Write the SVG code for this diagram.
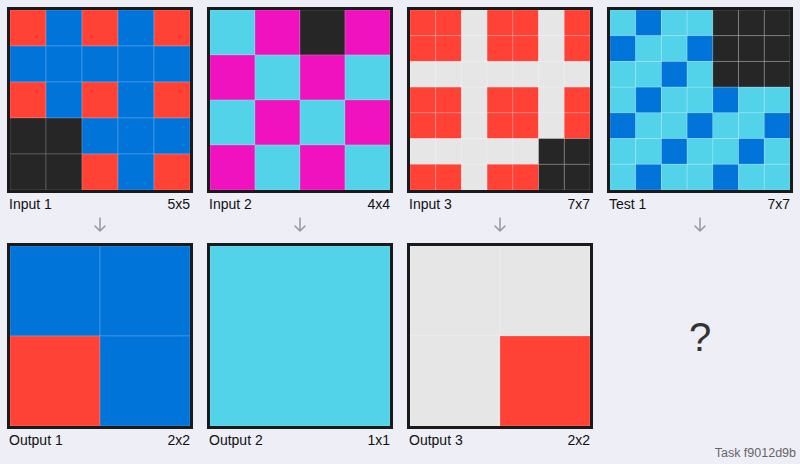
<svg xmlns="http://www.w3.org/2000/svg" width="800" height="464" viewBox="0 0 800 464">
<defs>
<style>
.bg{fill:#eeeef6}
.R{fill:#ff4136}.B{fill:#0074d9}.K{fill:#262626}.C{fill:#52d3ea}.M{fill:#f012be}.G{fill:#e6e6e6}
.cell{stroke:#ffffff;stroke-opacity:0.18;stroke-width:1}
.frame{fill:none;stroke:#1a1a1a;stroke-width:3}
.lbl{font-family:"Liberation Sans",Arial,sans-serif;font-size:14px;fill:#111}
.r{text-anchor:end}
.arr{fill:none;stroke:#999;stroke-width:1.5;stroke-linecap:round;stroke-linejoin:round}
</style>
</defs>
<rect class="bg" x="0" y="0" width="800" height="464"/>

<g id="input1">
<g class="cell">
<rect class="R" x="10" y="10" width="36" height="36"/><rect class="B" x="46" y="10" width="36" height="36"/><rect class="R" x="82" y="10" width="36" height="36"/><rect class="B" x="118" y="10" width="36" height="36"/><rect class="R" x="154" y="10" width="36" height="36"/>
<rect class="B" x="10" y="46" width="36" height="36"/><rect class="B" x="46" y="46" width="36" height="36"/><rect class="B" x="82" y="46" width="36" height="36"/><rect class="B" x="118" y="46" width="36" height="36"/><rect class="B" x="154" y="46" width="36" height="36"/>
<rect class="R" x="10" y="82" width="36" height="36"/><rect class="B" x="46" y="82" width="36" height="36"/><rect class="R" x="82" y="82" width="36" height="36"/><rect class="B" x="118" y="82" width="36" height="36"/><rect class="R" x="154" y="82" width="36" height="36"/>
<rect class="K" x="10" y="118" width="36" height="36"/><rect class="K" x="46" y="118" width="36" height="36"/><rect class="B" x="82" y="118" width="36" height="36"/><rect class="B" x="118" y="118" width="36" height="36"/><rect class="B" x="154" y="118" width="36" height="36"/>
<rect class="K" x="10" y="154" width="36" height="36"/><rect class="K" x="46" y="154" width="36" height="36"/><rect class="R" x="82" y="154" width="36" height="36"/><rect class="B" x="118" y="154" width="36" height="36"/><rect class="R" x="154" y="154" width="36" height="36"/>
</g>
<rect class="frame" x="8.5" y="8.5" width="183" height="183"/>
<text class="lbl" x="9" y="209">Input 1</text><text class="lbl r" x="190" y="209">5x5</text>
</g>

<g id="input2">
<g class="cell">
<rect class="C" x="210" y="10" width="45" height="45"/><rect class="M" x="255" y="10" width="45" height="45"/><rect class="K" x="300" y="10" width="45" height="45"/><rect class="M" x="345" y="10" width="45" height="45"/>
<rect class="M" x="210" y="55" width="45" height="45"/><rect class="C" x="255" y="55" width="45" height="45"/><rect class="M" x="300" y="55" width="45" height="45"/><rect class="C" x="345" y="55" width="45" height="45"/>
<rect class="C" x="210" y="100" width="45" height="45"/><rect class="M" x="255" y="100" width="45" height="45"/><rect class="C" x="300" y="100" width="45" height="45"/><rect class="M" x="345" y="100" width="45" height="45"/>
<rect class="M" x="210" y="145" width="45" height="45"/><rect class="C" x="255" y="145" width="45" height="45"/><rect class="M" x="300" y="145" width="45" height="45"/><rect class="C" x="345" y="145" width="45" height="45"/>
</g>
<rect class="frame" x="208.5" y="8.5" width="183" height="183"/>
<text class="lbl" x="209" y="209">Input 2</text><text class="lbl r" x="390" y="209">4x4</text>
</g>

<g id="input3">
<g class="cell">
<rect class="R" x="410" y="10" width="25.71" height="25.71"/><rect class="R" x="435.71" y="10" width="25.71" height="25.71"/><rect class="G" x="461.43" y="10" width="25.71" height="25.71"/><rect class="R" x="487.14" y="10" width="25.71" height="25.71"/><rect class="R" x="512.86" y="10" width="25.71" height="25.71"/><rect class="G" x="538.57" y="10" width="25.71" height="25.71"/><rect class="R" x="564.29" y="10" width="25.71" height="25.71"/>
<rect class="R" x="410" y="35.71" width="25.71" height="25.71"/><rect class="R" x="435.71" y="35.71" width="25.71" height="25.71"/><rect class="G" x="461.43" y="35.71" width="25.71" height="25.71"/><rect class="R" x="487.14" y="35.71" width="25.71" height="25.71"/><rect class="R" x="512.86" y="35.71" width="25.71" height="25.71"/><rect class="G" x="538.57" y="35.71" width="25.71" height="25.71"/><rect class="R" x="564.29" y="35.71" width="25.71" height="25.71"/>
<rect class="G" x="410" y="61.43" width="25.71" height="25.71"/><rect class="G" x="435.71" y="61.43" width="25.71" height="25.71"/><rect class="G" x="461.43" y="61.43" width="25.71" height="25.71"/><rect class="G" x="487.14" y="61.43" width="25.71" height="25.71"/><rect class="G" x="512.86" y="61.43" width="25.71" height="25.71"/><rect class="G" x="538.57" y="61.43" width="25.71" height="25.71"/><rect class="G" x="564.29" y="61.43" width="25.71" height="25.71"/>
<rect class="R" x="410" y="87.14" width="25.71" height="25.71"/><rect class="R" x="435.71" y="87.14" width="25.71" height="25.71"/><rect class="G" x="461.43" y="87.14" width="25.71" height="25.71"/><rect class="R" x="487.14" y="87.14" width="25.71" height="25.71"/><rect class="R" x="512.86" y="87.14" width="25.71" height="25.71"/><rect class="G" x="538.57" y="87.14" width="25.71" height="25.71"/><rect class="R" x="564.29" y="87.14" width="25.71" height="25.71"/>
<rect class="R" x="410" y="112.86" width="25.71" height="25.71"/><rect class="R" x="435.71" y="112.86" width="25.71" height="25.71"/><rect class="G" x="461.43" y="112.86" width="25.71" height="25.71"/><rect class="R" x="487.14" y="112.86" width="25.71" height="25.71"/><rect class="R" x="512.86" y="112.86" width="25.71" height="25.71"/><rect class="G" x="538.57" y="112.86" width="25.71" height="25.71"/><rect class="R" x="564.29" y="112.86" width="25.71" height="25.71"/>
<rect class="G" x="410" y="138.57" width="25.71" height="25.71"/><rect class="G" x="435.71" y="138.57" width="25.71" height="25.71"/><rect class="G" x="461.43" y="138.57" width="25.71" height="25.71"/><rect class="G" x="487.14" y="138.57" width="25.71" height="25.71"/><rect class="G" x="512.86" y="138.57" width="25.71" height="25.71"/><rect class="K" x="538.57" y="138.57" width="25.71" height="25.71"/><rect class="K" x="564.29" y="138.57" width="25.71" height="25.71"/>
<rect class="R" x="410" y="164.29" width="25.71" height="25.71"/><rect class="R" x="435.71" y="164.29" width="25.71" height="25.71"/><rect class="G" x="461.43" y="164.29" width="25.71" height="25.71"/><rect class="R" x="487.14" y="164.29" width="25.71" height="25.71"/><rect class="R" x="512.86" y="164.29" width="25.71" height="25.71"/><rect class="K" x="538.57" y="164.29" width="25.71" height="25.71"/><rect class="K" x="564.29" y="164.29" width="25.71" height="25.71"/>
</g>
<rect class="frame" x="408.5" y="8.5" width="183" height="183"/>
<text class="lbl" x="409" y="209">Input 3</text><text class="lbl r" x="590" y="209">7x7</text>
</g>

<g id="test1">
<g class="cell">
<rect class="C" x="610" y="10" width="25.71" height="25.71"/><rect class="B" x="635.71" y="10" width="25.71" height="25.71"/><rect class="C" x="661.43" y="10" width="25.71" height="25.71"/><rect class="C" x="687.14" y="10" width="25.71" height="25.71"/><rect class="K" x="712.86" y="10" width="25.71" height="25.71"/><rect class="K" x="738.57" y="10" width="25.71" height="25.71"/><rect class="K" x="764.29" y="10" width="25.71" height="25.71"/>
<rect class="B" x="610" y="35.71" width="25.71" height="25.71"/><rect class="C" x="635.71" y="35.71" width="25.71" height="25.71"/><rect class="C" x="661.43" y="35.71" width="25.71" height="25.71"/><rect class="B" x="687.14" y="35.71" width="25.71" height="25.71"/><rect class="K" x="712.86" y="35.71" width="25.71" height="25.71"/><rect class="K" x="738.57" y="35.71" width="25.71" height="25.71"/><rect class="K" x="764.29" y="35.71" width="25.71" height="25.71"/>
<rect class="C" x="610" y="61.43" width="25.71" height="25.71"/><rect class="C" x="635.71" y="61.43" width="25.71" height="25.71"/><rect class="B" x="661.43" y="61.43" width="25.71" height="25.71"/><rect class="C" x="687.14" y="61.43" width="25.71" height="25.71"/><rect class="K" x="712.86" y="61.43" width="25.71" height="25.71"/><rect class="K" x="738.57" y="61.43" width="25.71" height="25.71"/><rect class="K" x="764.29" y="61.43" width="25.71" height="25.71"/>
<rect class="C" x="610" y="87.14" width="25.71" height="25.71"/><rect class="B" x="635.71" y="87.14" width="25.71" height="25.71"/><rect class="C" x="661.43" y="87.14" width="25.71" height="25.71"/><rect class="C" x="687.14" y="87.14" width="25.71" height="25.71"/><rect class="B" x="712.86" y="87.14" width="25.71" height="25.71"/><rect class="C" x="738.57" y="87.14" width="25.71" height="25.71"/><rect class="C" x="764.29" y="87.14" width="25.71" height="25.71"/>
<rect class="B" x="610" y="112.86" width="25.71" height="25.71"/><rect class="C" x="635.71" y="112.86" width="25.71" height="25.71"/><rect class="C" x="661.43" y="112.86" width="25.71" height="25.71"/><rect class="B" x="687.14" y="112.86" width="25.71" height="25.71"/><rect class="C" x="712.86" y="112.86" width="25.71" height="25.71"/><rect class="C" x="738.57" y="112.86" width="25.71" height="25.71"/><rect class="B" x="764.29" y="112.86" width="25.71" height="25.71"/>
<rect class="C" x="610" y="138.57" width="25.71" height="25.71"/><rect class="C" x="635.71" y="138.57" width="25.71" height="25.71"/><rect class="B" x="661.43" y="138.57" width="25.71" height="25.71"/><rect class="C" x="687.14" y="138.57" width="25.71" height="25.71"/><rect class="C" x="712.86" y="138.57" width="25.71" height="25.71"/><rect class="B" x="738.57" y="138.57" width="25.71" height="25.71"/><rect class="C" x="764.29" y="138.57" width="25.71" height="25.71"/>
<rect class="C" x="610" y="164.29" width="25.71" height="25.71"/><rect class="B" x="635.71" y="164.29" width="25.71" height="25.71"/><rect class="C" x="661.43" y="164.29" width="25.71" height="25.71"/><rect class="C" x="687.14" y="164.29" width="25.71" height="25.71"/><rect class="B" x="712.86" y="164.29" width="25.71" height="25.71"/><rect class="C" x="738.57" y="164.29" width="25.71" height="25.71"/><rect class="C" x="764.29" y="164.29" width="25.71" height="25.71"/>
</g>
<rect class="frame" x="608.5" y="8.5" width="183" height="183"/>
<text class="lbl" x="609" y="209">Test 1</text><text class="lbl r" x="790" y="209">7x7</text>
</g>

<g id="connectors">
<path class="arr" d="M100 218 V231 M95 226 L100 231 L105 226"/>
<path class="arr" d="M300 218 V231 M295 226 L300 231 L305 226"/>
<path class="arr" d="M500 218 V231 M495 226 L500 231 L505 226"/>
<path class="arr" d="M700 218 V231 M695 226 L700 231 L705 226"/>
</g>

<g id="output1">
<g class="cell">
<rect class="B" x="10" y="246" width="90" height="90"/><rect class="B" x="100" y="246" width="90" height="90"/>
<rect class="R" x="10" y="336" width="90" height="90"/><rect class="B" x="100" y="336" width="90" height="90"/>
</g>
<rect class="frame" x="8.5" y="244.5" width="183" height="183"/>
<text class="lbl" x="9" y="445">Output 1</text><text class="lbl r" x="190" y="445">2x2</text>
</g>

<g id="output2">
<rect class="C cell" x="210" y="246" width="180" height="180"/>
<rect class="frame" x="208.5" y="244.5" width="183" height="183"/>
<text class="lbl" x="209" y="445">Output 2</text><text class="lbl r" x="390" y="445">1x1</text>
</g>

<g id="output3">
<g class="cell">
<rect class="G" x="410" y="246" width="90" height="90"/><rect class="G" x="500" y="246" width="90" height="90"/>
<rect class="G" x="410" y="336" width="90" height="90"/><rect class="R" x="500" y="336" width="90" height="90"/>
</g>
<rect class="frame" x="408.5" y="244.5" width="183" height="183"/>
<text class="lbl" x="409" y="445">Output 3</text><text class="lbl r" x="590" y="445">2x2</text>
</g>

<g id="test-output">
<text x="700" y="351" text-anchor="middle" font-family="Liberation Sans, Arial, sans-serif" font-size="40" fill="#333">?</text>
</g>

<text x="796" y="457" text-anchor="end" font-family="Liberation Sans, Arial, sans-serif" font-size="12.5" fill="#666">Task f9012d9b</text>
</svg>
